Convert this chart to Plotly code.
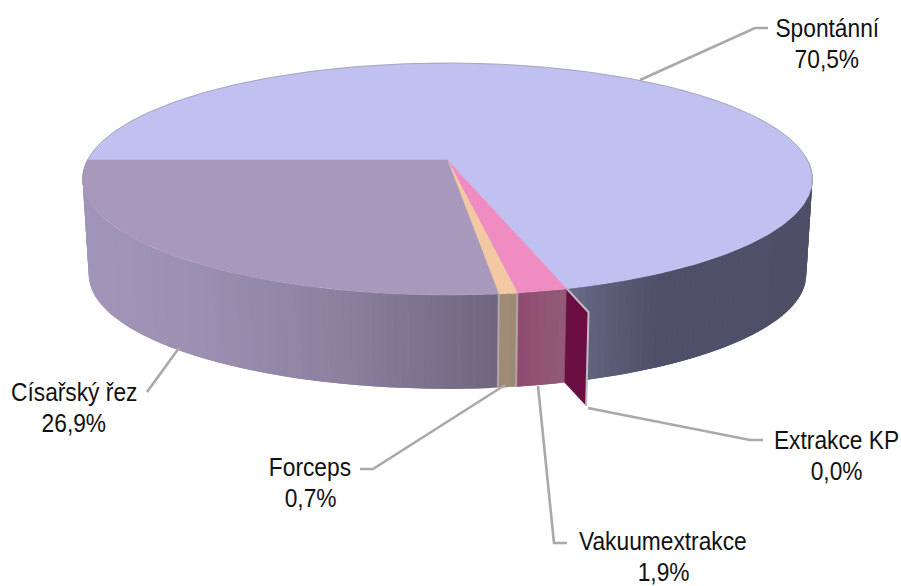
import math
import plotly.graph_objects as go

# --- data ---
categories = ["Spontánní", "Extrakce KP", "Vakuumextrakce", "Forceps", "Císařský řez"]
shares = [70.5, 0.0, 1.9, 0.7, 26.9]
value_labels = ["70,5%", "0,0%", "1,9%", "0,7%", "26,9%"]
top_colors = ["#c0c0f1", "#6b0f42", "#ef8cc2", "#f3c9a3", "#a898bc"]

# --- projection of the tilted disc ---
X0, Y0 = 447.5, 160.0
A, B, K = 112.9, 360.0, 0.164
DEPTH, SHRINK = 96.0, 0.983
START = 180.0
EXPLODE = 1.15


def proj(deg, r=1.0, low=False):
    t = math.radians(deg)
    u, v = r * math.cos(t), r * math.sin(t)
    d = 1 + K * v
    s = SHRINK if low else 1.0
    return X0 + s * B * u / d, Y0 + (DEPTH if low else 0) - s * A * v / d


def hex2rgb(h):
    return tuple(int(h[i:i + 2], 16) for i in (1, 3, 5))


def ramp(stops, x):
    if x <= stops[0][0]:
        return stops[0][1]
    for (x1, c1), (x2, c2) in zip(stops, stops[1:]):
        if x <= x2:
            f = (x - x1) / (x2 - x1)
            a, b = hex2rgb(c1), hex2rgb(c2)
            return "rgb(%d,%d,%d)" % tuple(round(p + (q - p) * f) for p, q in zip(a, b))
    return stops[-1][1]


wall_ramps = {
    "Spontánní": [(566, "#6b6d8a"), (600, "#5e607a"), (660, "#4e4f69"), (812, "#4e4f67")],
    "Extrakce KP": [(0, "#6b0f42"), (900, "#6b0f42")],
    "Vakuumextrakce": [(516, "#8f4c70"), (566, "#925b78")],
    "Forceps": [(497, "#a08c78"), (516, "#9d8a74")],
    "Císařský řez": [(85, "#a195b9"), (200, "#9b90b1"), (350, "#8a7f9d"), (497, "#6e667f")],
}

# slice angle bounds, clockwise from the left
bounds = []
a0 = START
for share in shares:
    a1 = a0 - 360 * share / 100
    bounds.append((a0, a1))
    a0 = a1

fig = go.Figure()


def poly(xs, ys, fill, w=0.0):
    fig.add_trace(go.Scatter(
        x=xs, y=ys, mode="lines", fill="toself", fillcolor=fill,
        line=dict(color=fill, width=w),
        hoverinfo="skip", showlegend=False))


def arc(a0, a1, r=1.0, low=False, n=None):
    n = n or max(2, int(abs(a0 - a1) / 0.75) + 1)
    pts = [proj(a0 + (a1 - a0) * i / n, r, low) for i in range(n + 1)]
    return [p[0] for p in pts], [p[1] for p in pts]


# outer wall strips (front half only); the slices overlap slightly to hide seams
STEP = 1.0
for cat, (a0, a1) in zip(categories, bounds):
    if a0 == a1:
        continue
    lo, hi = max(a0, a1), min(a0, a1)
    front_hi = min(lo, 0.0)
    front_lo = max(hi, -180.0)
    t = front_hi
    while t > front_lo + 1e-6:
        t2 = max(t - STEP, front_lo)
        t3 = max(t2 - STEP, front_lo)  # strip extends under the next one
        x1, y1 = proj(t)
        x2, y2 = proj(t3)
        x3, y3 = proj(t3, low=True)
        x4, y4 = proj(t, low=True)
        col = ramp(wall_ramps[cat], (x1 + proj(t2)[0]) / 2)
        poly([x1, x2, x3, x4, x1], [y1, y2, y3, y4, y1], col)
        t = t2

# light edges between wall sections
for a in (bounds[2][1], bounds[3][1]):
    x1, y1 = proj(a)
    x2, y2 = proj(a, low=True)
    fig.add_trace(go.Scatter(x=[x1, x2], y=[y1, y2], mode="lines",
                             line=dict(color="rgba(190,182,185,0.7)", width=2),
                             hoverinfo="skip", showlegend=False))

# top faces
for col, (a0, a1) in zip(top_colors, bounds):
    if a0 == a1:
        continue
    xs, ys = arc(a0, a1)
    poly([X0] + xs + [X0], [Y0] + ys + [Y0], col, 0.5)

# rim outline (back and sides)
xs, ys = arc(-12, 192, n=200)
fig.add_trace(go.Scatter(x=xs, y=ys, mode="lines", line=dict(color="rgba(150,150,160,0.7)", width=1),
                         hoverinfo="skip", showlegend=False))

# exploded zero-size slice: its radial face stands out from the rim
a = bounds[1][0]
p1 = proj(a)
p2 = proj(a, EXPLODE)
p3 = proj(a, EXPLODE, True)
p4 = proj(a, 1.0, True)
poly([p1[0], p2[0], p3[0], p4[0], p1[0]], [p1[1], p2[1], p3[1], p4[1], p1[1]], top_colors[1], 0.5)
fig.add_trace(go.Scatter(x=[p1[0], p2[0], p3[0]], y=[p1[1], p2[1], p3[1]], mode="lines",
                         line=dict(color="#c4bcc4", width=2), hoverinfo="skip", showlegend=False))

# leader lines
LEADER = "#a9a9a9"
leaders = [
    ([640, 755, 768], [80, 28, 28]),
    ([179, 147], [348, 392]),
    ([505, 373, 360], [385, 469, 469]),
    ([538, 554, 567], [386, 543, 543]),
    ([588, 750, 763], [408, 440, 440]),
]
for xs, ys in leaders:
    fig.add_trace(go.Scatter(x=xs, y=ys, mode="lines", line=dict(color=LEADER, width=2.6),
                             hoverinfo="skip", showlegend=False))

# labels
label_pos = {
    "Spontánní": (827, 28),
    "Extrakce KP": (836, 440),
    "Vakuumextrakce": (663, 541),
    "Forceps": (310, 467),
    "Císařský řez": (74, 392),
}
FONT = dict(family="Liberation Sans", size=26, color="#111111")
annotations = []
for cat, val in zip(categories, value_labels):
    x, y = label_pos[cat]
    for txt, yy in ((cat, y), (val, y + 31)):
        annotations.append(dict(x=x, y=yy, text=txt, showarrow=False, font=FONT,
                                xanchor="center", yanchor="middle", xref="x", yref="y"))

fig.update_layout(
    width=901, height=586, margin=dict(l=0, r=0, t=0, b=0),
    paper_bgcolor="white", plot_bgcolor="white", showlegend=False,
    xaxis=dict(range=[0, 901], visible=False, fixedrange=True),
    yaxis=dict(range=[586, 0], visible=False, fixedrange=True),
    annotations=annotations,
)
# the reference uses a condensed Arial-style face: condense the glyphs of the real text
squeeze = """
document.body.style.margin='0';
document.querySelectorAll('.annotation-text').forEach(function (t) {
  t.setAttribute('textLength', 0.875 * t.getComputedTextLength());
  t.setAttribute('lengthAdjust', 'spacingAndGlyphs');
});
"""
fig.write_html("out.html", post_script=squeeze, config={"displayModeBar": False})
